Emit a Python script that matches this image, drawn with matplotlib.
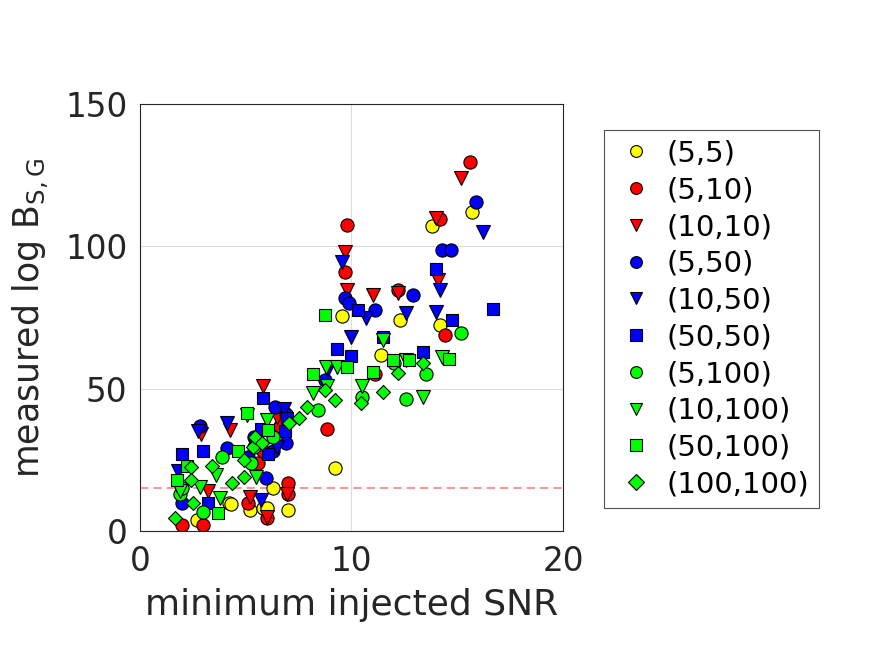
import matplotlib
matplotlib.use("Agg")
import matplotlib.pyplot as plt

labels = ["(5,5)", "(5,10)", "(10,10)", "(5,50)", "(10,50)", "(50,50)",
          "(5,100)", "(10,100)", "(50,100)", "(100,100)"]

x_5_5 = [2.7, 4.2, 4.3, 5.2, 5.8, 6.3, 7.0, 9.2, 9.55, 11.4, 12.3, 13.8, 14.2, 15.7, 6.0]
y_5_5 = [4, 10, 9.5, 7.5, 8, 15, 7.5, 22, 75.5, 62, 74, 107, 72.5, 112, 8]

x_5_10 = [15.6, 14.2, 9.8, 9.7, 8.85, 14.4, 11.1, 12.2, 2.0, 3.0, 6.0, 7.0, 5.1, 5.6, 5.8, 6.6, 7.0]
y_5_10 = [129.6, 109.6, 107.5, 91, 36, 69, 55, 84.6, 2, 2, 4.5, 17, 10, 24, 28, 37, 13]

x_10_10 = [15.2, 14.0, 12.2, 14.1, 9.7, 9.8, 11.0, 5.8, 4.25, 2.9, 6.95, 6.0, 5.2, 6.5, 3.2]
y_10_10 = [124, 110, 83.6, 88, 98, 84.6, 83, 51, 35.5, 34, 13, 5, 12, 40, 14]

x_5_50 = [15.9, 14.3, 14.7, 12.9, 9.7, 9.9, 11.1, 8.75, 6.4, 6.9, 6.9, 5.96, 2.84, 2.0, 4.1, 5.1, 5.4, 6.3]
y_5_50 = [115.6, 98.7, 98.7, 83, 82, 80, 77.6, 53, 43.6, 41, 31, 18.6, 37, 10, 29, 26, 33, 28]

x_10_50 = [16.2, 14.2, 14.0, 12.6, 10.7, 9.55, 10.0, 8.9, 2.75, 4.1, 1.8, 5.7, 6.5, 6.8]
y_10_50 = [105, 84.6, 77, 76.6, 75, 94.5, 68, 57, 35, 38, 21, 11, 29.5, 43]

x_50_50 = [16.7, 14.75, 14.0, 13.4, 11.5, 10.3, 10.0, 9.3, 5.8, 2.0, 3.0, 6.85, 6.95, 6.05, 5.7, 3.2]
y_50_50 = [78, 74, 92, 63, 68, 77.6, 61.5, 64, 46.7, 27, 28, 35, 39.7, 27, 36, 10]

x_5_100 = [15.2, 13.5, 12.6, 10.5, 8.4, 12.0, 5.25, 6.3, 1.9, 3.0, 3.9, 5.4, 2.0]
y_5_100 = [69.5, 55, 46.5, 47, 42.5, 59, 24, 33, 13, 6.7, 26, 29.5, 15]

x_10_100 = [11.5, 12.6, 13.4, 14.3, 8.8, 9.3, 8.85, 8.2, 10.5, 5.05, 6.0, 1.9, 3.8, 2.85, 3.6, 5.5]
y_10_100 = [67, 60, 47, 61, 57.6, 57.6, 51, 48.5, 51, 40.7, 39, 14, 11.6, 15.5, 19.7, 19]

x_50_100 = [8.75, 8.2, 9.8, 11.0, 11.95, 12.7, 14.6, 5.05, 4.65, 6.05, 1.75, 3.7, 2.2]
y_50_100 = [76, 55, 57.6, 56, 60, 60, 60.5, 41.5, 28, 35.5, 18, 6.3, 23]

x_100_100 = [7.5, 7.9, 8.75, 9.2, 10.45, 11.5, 12.2, 13.4, 7.05, 5.35, 1.65, 2.4, 2.5,
             3.4, 2.4, 4.35, 4.9, 5.45, 5.75, 4.9]
y_100_100 = [39.7, 43.6, 49.5, 46, 45, 49, 55.5, 59, 38, 29.5, 4.5, 22.5, 10,
             23, 18, 17, 25, 33, 31, 19]

threshold = 15

series = [
    (x_5_5, y_5_5, "o", "#ffff00"),
    (x_5_10, y_5_10, "o", "#ff0000"),
    (x_10_10, y_10_10, "v", "#ff0000"),
    (x_5_50, y_5_50, "o", "#0000ff"),
    (x_10_50, y_10_50, "v", "#0000ff"),
    (x_50_50, y_50_50, "s", "#0000ff"),
    (x_5_100, y_5_100, "o", "#00ff00"),
    (x_10_100, y_10_100, "v", "#00ff00"),
    (x_50_100, y_50_100, "s", "#00ff00"),
    (x_100_100, y_100_100, "D", "#00ff00"),
]
sizes = {"o": 9.5, "v": 10.5, "s": 8.5, "D": 7.5}

plt.rcParams['font.family'] = ['DejaVu Sans']
fig = plt.figure(figsize=(8.75, 6.56), dpi=100)
ax = fig.add_axes([0.16, 0.1905, 0.4834, 0.651])

handles = []
for (xs, ys, m, c), lab in zip(series, labels):
    h, = ax.plot(xs, ys, linestyle="none", marker=m, markersize=sizes[m],
                 markerfacecolor=c, markeredgecolor="black", markeredgewidth=0.8,
                 label=lab)
    handles.append(h)

ax.axhline(threshold, color="#ff7f7f", linestyle=(0, (5, 3)), linewidth=1.2, zorder=0)

ax.set_xlim(0, 20)
ax.set_ylim(0, 150)
ax.set_xticks([0, 10, 20])
ax.set_yticks([0, 50, 100, 150])
ax.grid(True, color="#dcdcdc", linewidth=0.8)
ax.set_axisbelow(True)
ax.tick_params(direction="in", labelsize=23.5, colors="#262626", length=0)
ax.tick_params(axis="x", pad=10)
ax.tick_params(axis="y", pad=9)
for s in ax.spines.values():
    s.set_color("#262626")
ax.set_xlabel("minimum injected SNR", fontsize=26, color="#262626", labelpad=7)
ax.set_ylabel("measured log B$_{\\mathrm{S,G}}$", fontsize=25, color="#262626", labelpad=10)

leg = fig.legend(handles=handles, loc="upper left", bbox_to_anchor=(604/875, 1-130/656),
                 fontsize=21, frameon=True, fancybox=False, edgecolor="#262626",
                 handlelength=1.55, labelspacing=0.3, borderpad=0.33,
                 handletextpad=0.25, borderaxespad=0)
leg.get_frame().set_linewidth(0.8)
for h in leg.legend_handles:
    h.set_markersize(8.5)

fig.savefig("out.png", dpi=100)
